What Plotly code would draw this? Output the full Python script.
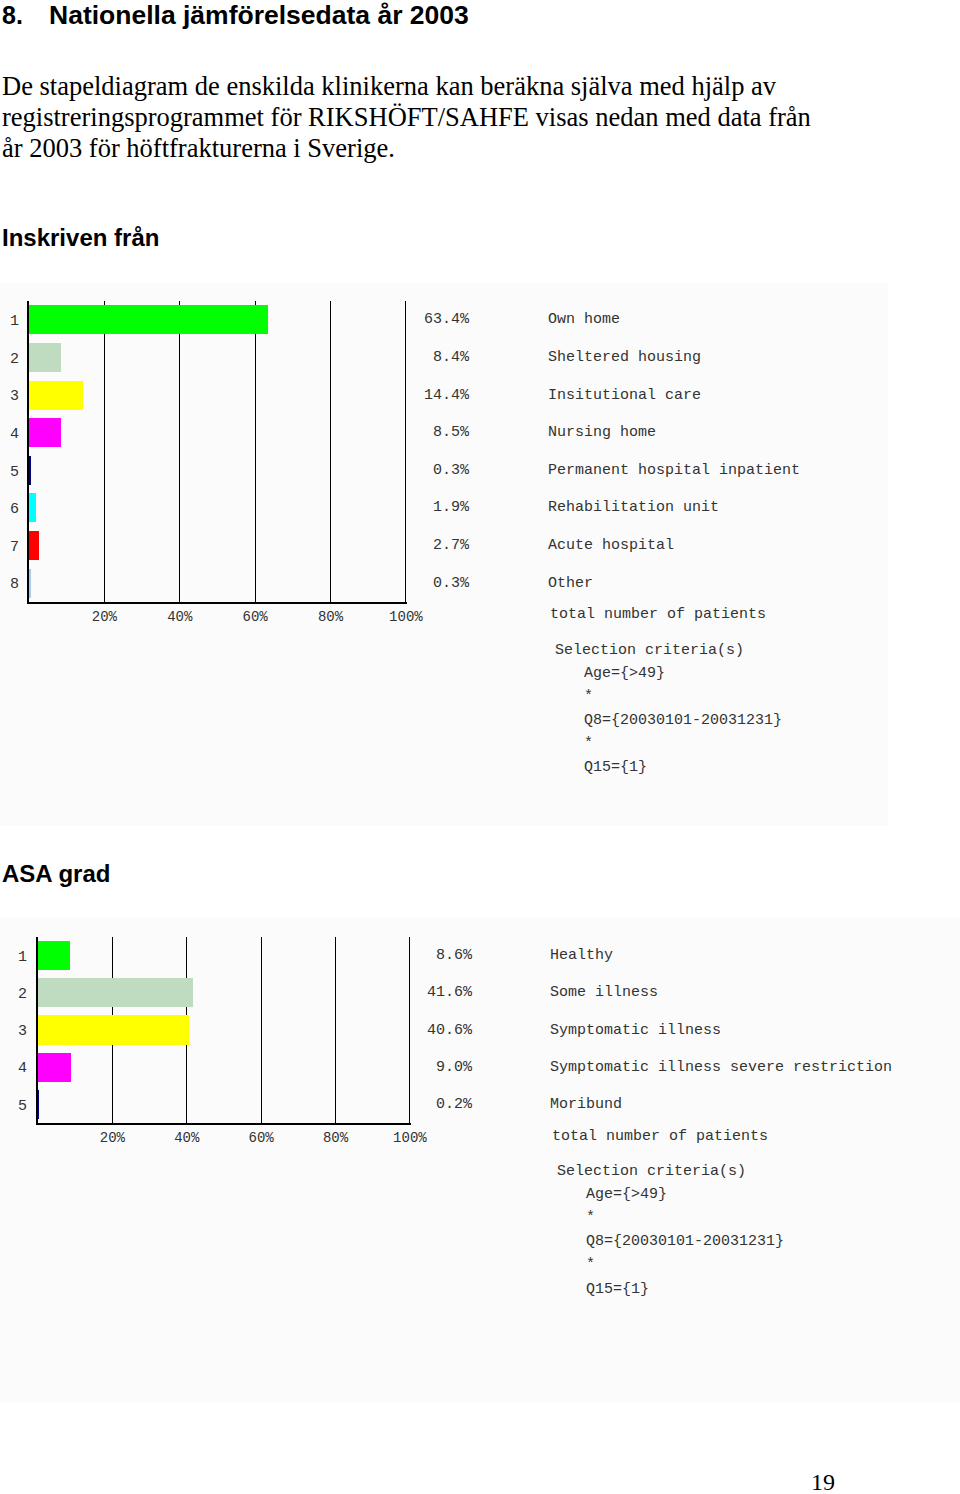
import plotly.graph_objects as go

W, H = 960, 1494

# ---------------- data ----------------
inskriven_cats = [1, 2, 3, 4, 5, 6, 7, 8]
inskriven_vals = [63.4, 8.4, 14.4, 8.5, 0.3, 1.9, 2.7, 0.3]
inskriven_labels = ["Own home", "Sheltered housing", "Insitutional care", "Nursing home",
                    "Permanent hospital inpatient", "Rehabilitation unit", "Acute hospital", "Other"]
inskriven_colors = ["#00ff00", "#c0dcc0", "#ffff00", "#ff00ff", "#000080", "#00ffff", "#ff0000", "#a6caf0"]

asa_cats = [1, 2, 3, 4, 5]
asa_vals = [8.6, 41.6, 40.6, 9.0, 0.2]
asa_labels = ["Healthy", "Some illness", "Symptomatic illness",
              "Symptomatic illness severe restriction", "Moribund"]
asa_colors = ["#00ff00", "#c0dcc0", "#ffff00", "#ff00ff", "#000080"]

x_ticks = [20, 40, 60, 80, 100]
x_ticklabels = ["20%", "40%", "60%", "80%", "100%"]

criteria_lines = ["Age={>49}", "*", "Q8={20030101-20031231}", "*", "Q15={1}"]

MONO = "Liberation Mono, Courier New, monospace"
SANS = "Liberation Sans, Arial, sans-serif"
SERIF = "Liberation Serif, Times New Roman, serif"


def py(y):
    return 1 - y / H


def px(x):
    return x / W


fig = go.Figure()

fig.add_trace(go.Bar(x=inskriven_vals, y=inskriven_cats, orientation="h",
                     marker=dict(color=inskriven_colors, line=dict(width=0)),
                     width=0.77, xaxis="x", yaxis="y", showlegend=False, hoverinfo="skip"))
fig.add_trace(go.Bar(x=asa_vals, y=asa_cats, orientation="h",
                     marker=dict(color=asa_colors, line=dict(width=0)),
                     width=0.78, xaxis="x2", yaxis="y2", showlegend=False, hoverinfo="skip"))

xcommon = dict(range=[0, 100.3], tickvals=x_ticks, ticktext=x_ticklabels,
               showgrid=True, gridcolor="#000000", gridwidth=1,
               showline=True, linecolor="#000000", linewidth=2,
               zeroline=False, ticks="", ticklabelstandoff=0, automargin=False,
               tickfont=dict(family=MONO, size=14, color="#333333"), fixedrange=True)
ycommon = dict(showgrid=False, zeroline=False, showline=True, linecolor="#000000",
               linewidth=2, ticks="", automargin=False,
               tickfont=dict(family=MONO, size=15, color="#333333"), fixedrange=True)

fig.update_layout(
    template="none",
    width=W, height=H, margin=dict(l=0, r=0, t=0, b=0, pad=0, autoexpand=False), autosize=False,
    paper_bgcolor="#ffffff", plot_bgcolor="rgba(0,0,0,0)",
    bargap=0, showlegend=False,
    xaxis=dict(domain=[px(29), px(407)], anchor="y", **xcommon),
    yaxis=dict(domain=[py(602), py(301)], anchor="x", range=[8.5, 0.5],
               tickvals=inskriven_cats, ticktext=[str(c) for c in inskriven_cats],
               ticklabelstandoff=5, **ycommon),
    xaxis2=dict(domain=[px(38), px(411)], anchor="y2", **xcommon),
    yaxis2=dict(domain=[py(1123), py(937)], anchor="x2", range=[5.5, 0.5],
                tickvals=asa_cats, ticktext=[str(c) for c in asa_cats],
                ticklabelstandoff=6, **ycommon),
)

shapes = [
    dict(type="rect", xref="paper", yref="paper", x0=0, x1=px(888), y0=py(826), y1=py(283),
         fillcolor="#fbfbfb", line=dict(width=0), layer="below"),
    dict(type="rect", xref="paper", yref="paper", x0=0, x1=1, y0=py(1403), y1=py(917),
         fillcolor="#fbfbfb", line=dict(width=0), layer="below"),
]
fig.update_layout(shapes=shapes)

ann = []


def text(x, y, s, family, size, color="#000000", xanchor="left", bold=False):
    if bold:
        s = "<b>" + s + "</b>"
    ann.append(dict(x=px(x), y=py(y), xref="paper", yref="paper", text=s, showarrow=False,
                    xanchor=xanchor, yanchor="middle", font=dict(family=family, size=size, color=color)))


# Headings and body text
text(0, 15, "8.", SANS, 25, bold=True)
text(47, 15, "Nationella jämförelsedata år 2003", SANS, 26.5, bold=True)
body = ["De stapeldiagram de enskilda klinikerna kan beräkna själva med hjälp av",
        "registreringsprogrammet för RIKSHÖFT/SAHFE visas nedan med data från",
        "år 2003 för höftfrakturerna i Sverige."]
for i, line in enumerate(body):
    text(0, 86 + 31 * i, line, SERIF, 26.5)
text(0, 238, "Inskriven från", SANS, 24, bold=True)
text(0, 873, "ASA grad", SANS, 24, bold=True)
text(809, 1482, "19", SERIF, 24)

# Value and category labels positioned through the category axes
for yref, cats, vals, labels, vx, lx in [("y", inskriven_cats, inskriven_vals, inskriven_labels, 472, 546),
                                         ("y2", asa_cats, asa_vals, asa_labels, 475, 548)]:
    for c, v, l in zip(cats, vals, labels):
        ann.append(dict(x=px(vx), y=c, xref="paper", yref=yref, text=f"{v:.1f}%", showarrow=False,
                        xanchor="right", yanchor="middle", font=dict(family=MONO, size=15, color="#333333")))
        ann.append(dict(x=px(lx), y=c, xref="paper", yref=yref, text=l, showarrow=False,
                        xanchor="left", yanchor="middle", font=dict(family=MONO, size=15, color="#333333")))

# total number / criteria blocks
for (tx, ty, sx, sy, cx, cy0) in [(548, 614, 553, 650, 582, 673), (550, 1136, 555, 1171, 584, 1194)]:
    text(tx, ty, "total number of patients", MONO, 15, "#333333")
    text(sx, sy, "Selection criteria(s)", MONO, 15, "#333333")
    ys = [cy0, cy0 + 23, cy0 + 47, cy0 + 70, cy0 + 95]
    for s, yy in zip(criteria_lines, ys):
        text(cx, yy, s, MONO, 15, "#333333")

fig.update_layout(annotations=ann)
fig.write_html(
    "out.html",
    config={"responsive": False},
    post_script="document.body.style.margin='0';",
)
